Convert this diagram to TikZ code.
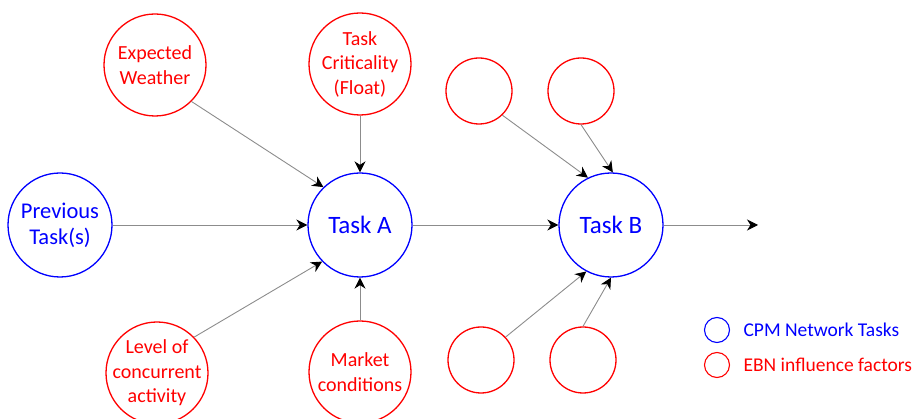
\documentclass[tikz,border=0pt]{standalone}
\usepackage{fontspec}
\setmainfont{Carlito}
\usetikzlibrary{positioning,arrows.meta}

\tikzset{
  factor/.style={circle, draw=red, line width=1.3pt, minimum size=102pt, inner sep=0pt},
  cpm/.style={circle, draw=blue, line width=1.3pt, minimum size=104pt, inner sep=0pt},
  blank/.style={circle, draw=red, line width=1.3pt, minimum size=66pt, inner sep=0pt},
  ftext/.style={text=red, align=center, font=\fontsize{20}{24.5}\selectfont},
  ctext/.style={text=blue, align=center, font=\fontsize{22.5}{26}\selectfont},
  link/.style={draw=black!45, line width=0.9pt, -{Stealth[color=black, length=11pt, width=11pt, inset=3.5pt]}},
}

\begin{document}
\begin{tikzpicture}[x=1pt, y=-1pt]
    \useasboundingbox (0,0) rectangle (919,419);

    % CPM tasks
    \node [cpm, label={[ctext]center:Previous\\Task(s)}] (prev) at (60,225) {};
    \node [cpm, label={[ctext, font=\fontsize{25}{30}\selectfont]center:Task A}] (taskA) at (360,225) {};
    \node [cpm, label={[ctext, font=\fontsize{25}{30}\selectfont]center:Task B}] (taskB) at (611,225) {};
    \coordinate (out) at (758,225);

    % influence factors of Task A
    \node [factor, label={[ftext]center:Expected\\Weather}] (wx) at (155,65) {};
    \node [factor, label={[ftext]center:Task\\Criticality\\(Float)}] (crit) at (360,64) {};
    \node [factor, label={[ftext]center:Level of\\concurrent\\activity}] (conc) at (157,373) {};
    \node [factor, label={[ftext]center:Market\\conditions}] (mkt) at (360,372) {};

    % influence factors of Task B
    \node [blank] (bTL) at (479,91) {};
    \node [blank] (bTR) at (581,91) {};
    \node [blank] (bBL) at (481,360) {};
    \node [blank] (bBR) at (583,360) {};

    % Connections
    \draw [link] (prev) -- (taskA);
    \draw [link] (wx.315) -- (taskA.134);
    \draw [link] (crit) -- (taskA);
    \draw [link] (conc.44) -- (taskA.224);
    \draw [link] (mkt) -- (taskA);
    \draw [link] (taskA) -- (taskB);
    \draw [link] (bTL.314) -- (taskB.116);
    \draw [link] (bTR.270) -- (taskB.88);
    \draw [link] (bBL.43) -- (taskB.242);
    \draw [link] (bBR.90) -- (taskB.270);
    \draw [link] (taskB) -- (out);

    % Legend
    \node [cpm, minimum size=25pt, line width=1.1pt] (keycpm) at (717,330) {};
    \node [factor, minimum size=25pt, line width=1.1pt] (keyebn) at (717,365) {};
    \node [ctext, font=\fontsize{19.5}{23}\selectfont, right=10pt of keycpm] {CPM Network Tasks};
    \node [ftext, font=\fontsize{19.5}{23}\selectfont, right=10pt of keyebn] {EBN influence factors};

\end{tikzpicture}
\end{document}
